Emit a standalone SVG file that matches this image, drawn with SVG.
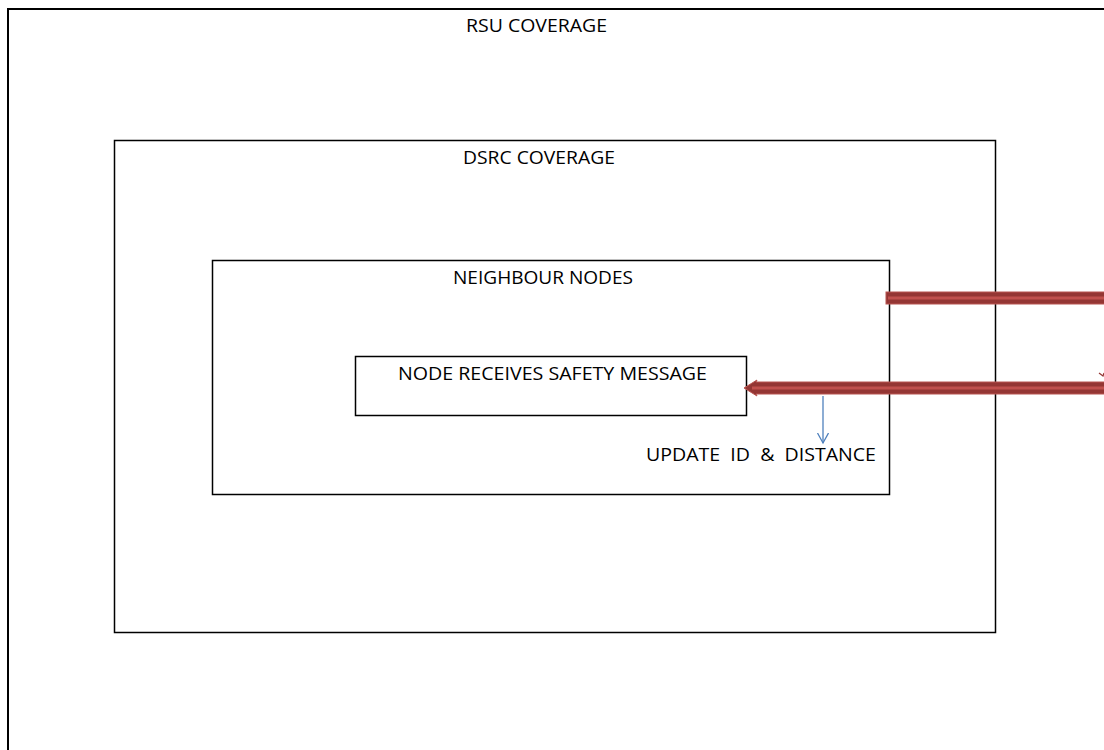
<svg xmlns="http://www.w3.org/2000/svg" width="1104" height="750" viewBox="0 0 1104 750">
<style>
.box{fill:none;stroke:#000;stroke-width:1.5}
.t{font-family:"Open Sans","Liberation Sans",sans-serif;font-size:19px;fill:#000;text-anchor:middle}
</style>
<defs>
<marker id="blue" markerWidth="12" markerHeight="14" refX="10" refY="6" orient="auto" markerUnits="userSpaceOnUse">
<path d="M0,0.5 L10,6 L0,11.5" fill="none" stroke="#4F81BD" stroke-width="1.3"/>
</marker>
</defs>
<rect width="1104" height="750" fill="#fff"/>
<g id="rsu">
<path d="M8,760 V9 H1110" fill="none" stroke="#000" stroke-width="2"/>
<text class="t" x="536.5" y="32" textLength="141" lengthAdjust="spacingAndGlyphs">RSU COVERAGE</text>
</g>
<g id="dsrc">
<rect class="box" x="114.5" y="140.5" width="881" height="492"/>
<text class="t" x="539" y="164" textLength="152" lengthAdjust="spacingAndGlyphs">DSRC COVERAGE</text>
</g>
<g id="neighbour">
<rect class="box" x="212.5" y="260.5" width="677" height="234"/>
<text class="t" x="543" y="284" textLength="180" lengthAdjust="spacingAndGlyphs">NEIGHBOUR NODES</text>
</g>
<g id="node">
<rect class="box" x="355.5" y="356.5" width="391" height="59"/>
<text class="t" x="552.5" y="380" textLength="309" lengthAdjust="spacingAndGlyphs">NODE RECEIVES SAFETY MESSAGE</text>
</g>
<g id="update">
<text class="t" x="761" y="461" textLength="230" lengthAdjust="spacingAndGlyphs" xml:space="preserve">UPDATE  ID  &amp;  DISTANCE</text>
</g>
<g id="connectors">
<rect x="886" y="292" width="230" height="12" fill="#943634" stroke="#B85450" stroke-width="1"/>
<line x1="888" y1="298" x2="1110" y2="298" stroke="#C0504D" stroke-width="3"/>
<path d="M1110,382 L756,382 L757,380 L744,388 L757,396 L756,394 L1110,394 Z" fill="#943634" stroke="#B85450" stroke-width="1"/>
<line x1="752" y1="388" x2="1110" y2="388" stroke="#C0504D" stroke-width="3"/>
<path d="M1099,373 L1103,376 L1104,373" fill="none" stroke="#943634" stroke-width="1.2"/>
<line x1="823" y1="396" x2="823" y2="443" stroke="#4F81BD" stroke-width="1.3" marker-end="url(#blue)"/>
</g>
</svg>
